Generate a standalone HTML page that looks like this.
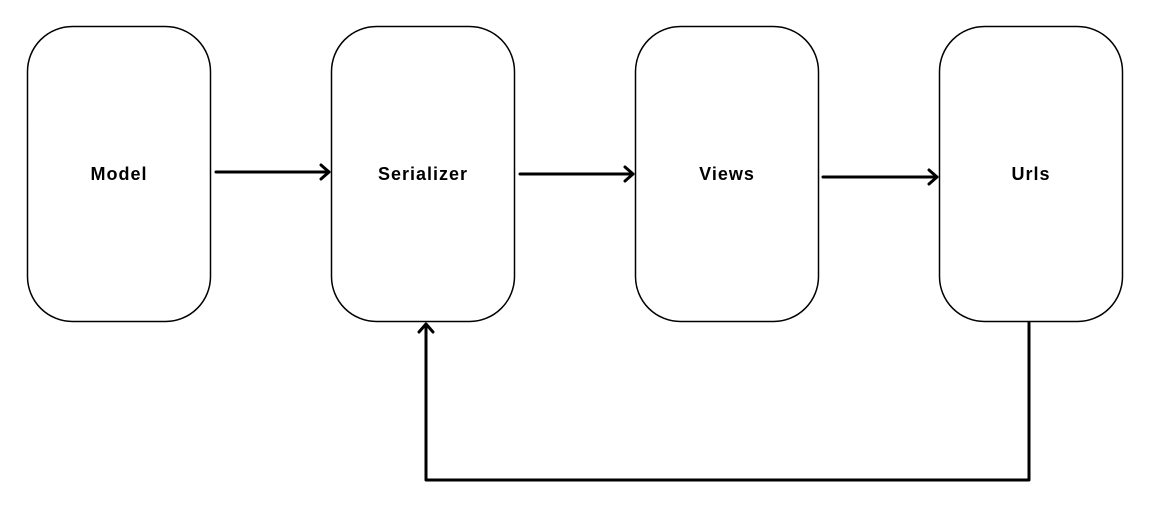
<!DOCTYPE html>
<html><head><style>body{margin:0;background:#fff}</style></head><body>
<svg width="1158" height="508" xmlns="http://www.w3.org/2000/svg">
<g fill="none" stroke="#000" stroke-width="1.5">
<rect x="27.5" y="26.5" width="183" height="295" rx="45"/>
<rect x="331.5" y="26.5" width="183" height="295" rx="45"/>
<rect x="635.5" y="26.5" width="183" height="295" rx="45"/>
<rect x="939.5" y="26.5" width="183" height="295" rx="45"/>
</g>
<g fill="none" stroke="#000" stroke-width="3" stroke-linecap="round" stroke-linejoin="round">
<path d="M216 172H329M321 165L329 172L321 179"/>
<path d="M520 174H633M625 167L633 174L625 181"/>
<path d="M823 177H937M929 170L937 177L929 184"/>
<path d="M1029 323V480H426V324M419 332L426 324L433 332"/>
</g>
<g font-family="Liberation Sans, sans-serif" font-size="18" font-weight="bold" text-anchor="middle" letter-spacing="1">
<text x="119" y="180">Model</text>
<text x="423" y="180">Serializer</text>
<text x="727" y="180">Views</text>
<text x="1031" y="180">Urls</text>
</g>
</svg>
</body></html>
